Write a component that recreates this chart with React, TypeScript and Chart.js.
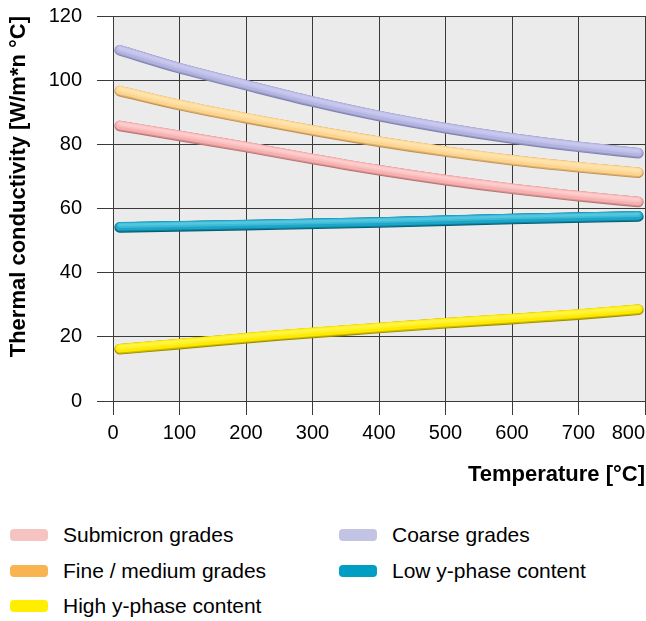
import React, { useEffect, useRef } from 'react';
import { Chart, registerables } from 'chart.js';

Chart.register(...registerables);

// ---- data ----
const xTickValues = [0, 100, 200, 300, 400, 500, 600, 700, 800];
const yTickValues = [0, 20, 40, 60, 80, 100, 120];

const seriesNames = [
  'Submicron grades',
  'Fine / medium grades',
  'High y-phase content',
  'Coarse grades',
  'Low y-phase content',
];

const submicronT = [10, 100, 200, 300, 400, 500, 600, 700, 790];
const submicronV = [85.9, 82.8, 79.3, 75.6, 72.1, 69.0, 66.3, 64.0, 62.2];

const fineT = [10, 100, 200, 300, 400, 500, 600, 700, 790];
const fineV = [96.8, 92.4, 88.3, 84.5, 81.0, 77.9, 75.2, 73.0, 71.3];

const highT = [10, 100, 250, 400, 500, 600, 700, 790];
const highV = [16.3, 17.9, 20.6, 22.9, 24.4, 25.7, 27.1, 28.6];

const coarseT = [10, 100, 200, 300, 400, 500, 600, 700, 790];
const coarseV = [109.5, 103.9, 98.6, 93.5, 89.0, 85.2, 82.0, 79.4, 77.4];

const lowT = [10, 200, 400, 600, 790];
const lowV = [54.3, 55.0, 55.8, 56.9, 57.7];

// ---- styles ----
const legendColors = ['#f5c4c2', '#f8b451', '#ffee00', '#c3c3e3', '#009ec3'];
const tubeDark = ['#b87474', '#c09050', '#9a8c00', '#8080ad', '#005a72'];
const tubeMid = ['#f6b0b0', '#fcd48f', '#ffe900', '#b3b3e1', '#1ca6c8'];
const tubeLight = ['#ffcccc', '#ffe3ab', '#fff540', '#c8c8ef', '#55c6df'];

const FONT = "'Liberation Sans', Arial, Helvetica, sans-serif";

const seriesT = [submicronT, fineT, highT, coarseT, lowT];
const seriesV = [submicronV, fineV, highV, coarseV, lowV];

function mix(a: string, b: string, t: number) {
  const pa = [1, 3, 5].map((k) => parseInt(a.slice(k, k + 2), 16));
  const pb = [1, 3, 5].map((k) => parseInt(b.slice(k, k + 2), 16));
  const r = pa.map((v, k) => Math.round(v + (pb[k] - v) * t));
  return `rgb(${r[0]},${r[1]},${r[2]})`;
}

const bgPlugin = {
  id: 'plotBg',
  beforeDraw(chart: any) {
    const { ctx, chartArea } = chart;
    ctx.save();
    ctx.fillStyle = '#ebebeb';
    ctx.fillRect(chartArea.left, chartArea.top, chartArea.right - chartArea.left, chartArea.bottom - chartArea.top);
    ctx.restore();
    const sx = chart.scales.x;
    if (sx && sx.getLabelItems) {
      const items = sx.getLabelItems(chartArea);
      if (items && items.length) items[0].options.textAlign = 'center';
    }
  },
};

const tubePlugin = {
  id: 'tube',
  beforeDatasetDraw(chart: any, args: any) {
    const meta = args.meta;
    const i = args.index;
    const line = meta.dataset;
    if (!line) return;
    if (typeof line.updateControlPoints === 'function') {
      line.updateControlPoints(chart.chartArea, 'x');
    }
    const p = new Path2D();
    line.path(p);
    const ctx = chart.ctx;
    const layers = [
      { dy: 0.6, w: 10.5, c: tubeDark[i] },
      { dy: 0.2, w: 9.5, c: mix(tubeDark[i], tubeMid[i], 0.5) },
      { dy: -0.5, w: 8.6, c: tubeMid[i] },
      { dy: -1.4, w: 5, c: mix(tubeMid[i], tubeLight[i], 0.6) },
      { dy: -2.0, w: 2.5, c: tubeLight[i] },
    ];
    for (const l of layers) {
      ctx.save();
      ctx.translate(0, l.dy);
      ctx.lineCap = 'round';
      ctx.lineJoin = 'round';
      ctx.strokeStyle = l.c;
      ctx.lineWidth = l.w;
      ctx.stroke(p);
      ctx.restore();
    }
    return false;
  },
};

function ChartView() {
  const ref = useRef<HTMLCanvasElement | null>(null);
  useEffect(() => {
    if (!ref.current) return;
    const datasets = seriesNames.map((name, i) => ({
      label: name,
      data: seriesT[i].map((t, j) => ({ x: t, y: seriesV[i][j] })),
      borderColor: tubeMid[i],
      backgroundColor: legendColors[i],
      borderWidth: 10,
      borderCapStyle: 'round' as const,
      borderJoinStyle: 'round' as const,
      cubicInterpolationMode: 'monotone' as const,
      pointRadius: 0,
      fill: false,
      clip: false as any,
    }));
    const chart = new Chart(ref.current, {
      type: 'line',
      data: { datasets },
      options: {
        animation: false,
        responsive: false,
        layout: { padding: { top: 16, right: 1, left: 0, bottom: 0 } },
        plugins: { legend: { display: false }, tooltip: { enabled: false } },
        scales: {
          x: {
            type: 'linear',
            min: 0,
            max: 800,
            afterBuildTicks: (s: any) => {
              s.ticks = xTickValues.map((v) => ({ value: v }));
            },
            afterFit: (s: any) => {
              s.paddingLeft = 0;
              s.paddingRight = 0;
              s.height = 99;
            },
            ticks: {
              align: 'inner',
              padding: 6,
              color: '#000',
              font: { family: FONT, size: 20 },
            },
            grid: { color: '#3a3a3a', lineWidth: 1, tickLength: 14, drawTicks: true },
            border: { color: '#3a3a3a' },
            title: {
              display: true,
              text: 'Temperature [°C]',
              align: 'end',
              color: '#000',
              font: { family: FONT, size: 22, weight: 'bold' },
              padding: { top: 16, bottom: 12 },
            },
          },
          y: {
            type: 'linear',
            min: 0,
            max: 120,
            afterBuildTicks: (s: any) => {
              s.ticks = yTickValues.map((v) => ({ value: v }));
            },
            afterFit: (s: any) => {
              s.paddingTop = 0;
              s.paddingBottom = 0;
              s.width = 113;
            },
            ticks: {
              padding: 15,
              color: '#000',
              font: { family: FONT, size: 20 },
            },
            grid: { color: '#3a3a3a', lineWidth: 1, tickLength: 16, drawTicks: true },
            border: { color: '#3a3a3a' },
            title: {
              display: true,
              text: 'Thermal conductivity [W/m*n °C]',
              align: 'end',
              color: '#000',
              font: { family: FONT, size: 22, weight: 'bold' },
              padding: { top: 6, bottom: 6 },
            },
          },
        },
      },
      plugins: [bgPlugin, tubePlugin],
    } as any);
    return () => chart.destroy();
  }, []);
  return <canvas ref={ref} width={646} height={500} style={{ display: 'block' }} />;
}

function Legend() {
  const cols = [10, 339];
  const rows = [535, 571, 606];
  const pos = [
    [0, 0],
    [0, 1],
    [0, 2],
    [1, 0],
    [1, 1],
  ];
  return (
    <>
      {seriesNames.map((name, i) => {
        const [c, r] = pos[i];
        const x = cols[c];
        const cy = rows[r];
        return (
          <React.Fragment key={name}>
            <div
              style={{
                position: 'absolute',
                left: x,
                top: cy - 6,
                width: 38,
                height: 12,
                borderRadius: 4,
                background: legendColors[i],
              }}
            />
            <div
              style={{
                position: 'absolute',
                left: x + 53,
                top: cy - 13,
                height: 26,
                lineHeight: '26px',
                fontSize: 21,
                fontFamily: FONT,
                color: '#000',
                whiteSpace: 'nowrap',
              }}
            >
              {name}
            </div>
          </React.Fragment>
        );
      })}
    </>
  );
}

export default function App() {
  return (
    <div style={{ position: 'absolute', left: 0, top: 0, width: 646, height: 621, background: '#fff' }}>
      <ChartView />
      <Legend />
    </div>
  );
}
